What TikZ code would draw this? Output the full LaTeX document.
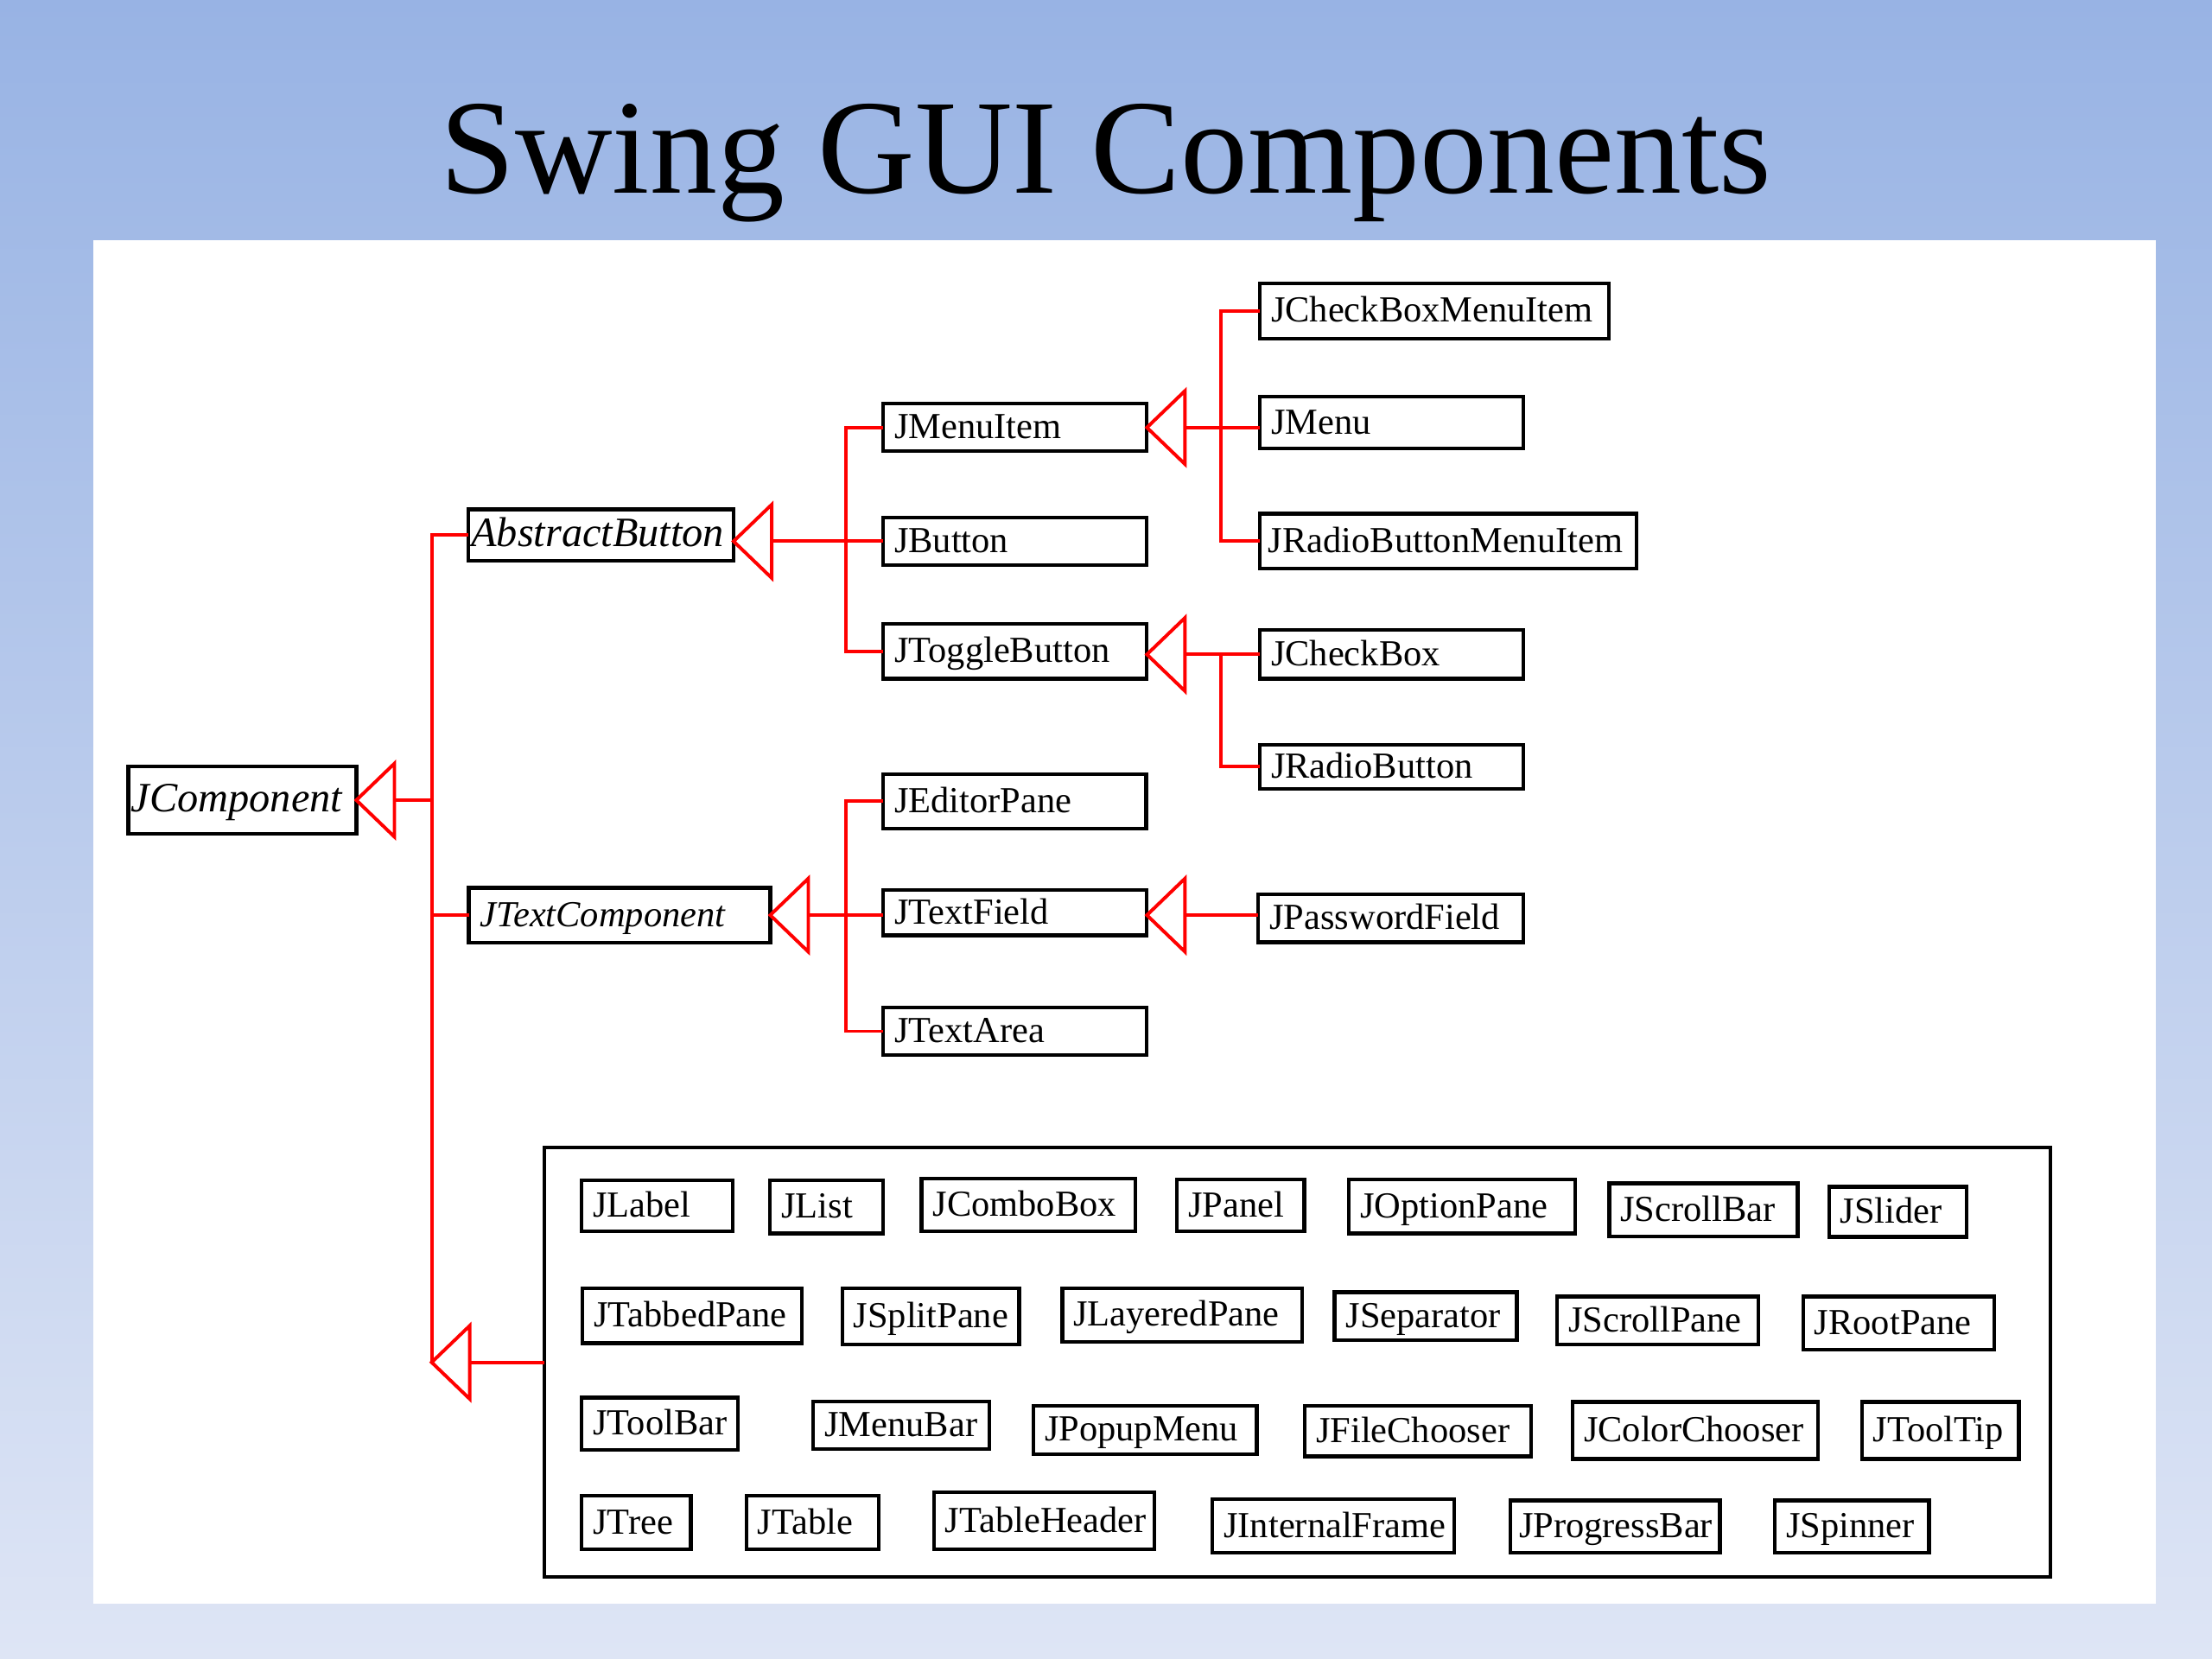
\documentclass[tikz,border=0pt]{standalone}
\usepackage{fontspec}
\setmainfont{Liberation Serif}
\hfuzz=80pt \hbadness=10000
\definecolor{bgtop}{RGB}{152,179,228}
\definecolor{bgbot}{RGB}{222,229,245}
\tikzset{
  cls/.style={draw=black, line width=1.3pt, fill=white, inner ysep=0pt, outer sep=0pt,
              align=left, text height=0.85em, text depth=0.05em,
              font=\fontsize{13}{14}\selectfont},
  rl/.style={draw=red, line width=1.2pt},
  tri/.style={draw=red, fill=white, line width=1.2pt, line join=miter},
  frame/.style={draw=black, line width=1.3pt, inner sep=0pt, outer sep=0pt},
}
\newcommand\bigit{\fontsize{14.8}{16}\selectfont\itshape}
\newcommand\bx[7][4]{%
  \pgfmathsetmacro\myBW{(#5-#3)*0.5}%
  \pgfmathsetmacro\myBH{(#6-#4)*0.5}%
  \pgfmathsetmacro\myTW{(#5-#3)*0.5-2*#1}%
  \node[cls, inner xsep=#1pt, minimum width=\myBW pt, minimum height=\myBH pt, text width=\myTW pt]
     (#2) at ({(#3+#5)/2},{(#4+#6)/2}) {#7};}
\begin{document}
\begin{tikzpicture}[x=0.5pt,y=-0.5pt]
\useasboundingbox (0,0) rectangle (1568,1176);
\shade[top color=bgtop, bottom color=bgbot] (0,0) rectangle (1568,1176);
\fill[white] (66,170) rectangle (1528,1137);
\node[font=\fontsize{47.7}{50}\selectfont, anchor=base, inner sep=0pt] (title) at (784,137) {Swing GUI Components};

% hierarchy boxes
\bx[1]{JComponent}{91}{543.4}{252.6}{591}{\bigit JComponent}
\bx[1]{AbstractButton}{332}{361}{520}{397.4}{\bigit AbstractButton}
\bx{JTextComponent}{332.3}{629.3}{546}{668.1}{\itshape JTextComponent}
\bx{JMenuItem}{626}{286.2}{813}{319.9}{JMenuItem}
\bx{JButton}{626}{366.7}{813}{400.7}{JButton}
\bx{JToggleButton}{626}{442.4}{813}{481.1}{JToggleButton}
\bx{JEditorPane}{626}{548.7}{812.5}{587.3}{JEditorPane}
\bx{JTextField}{626}{630.7}{813}{663}{JTextField}
\bx{JTextArea}{626}{714}{813}{748}{JTextArea}
\bx{JCheckBoxMenuItem}{893}{200.7}{1140.5}{239.9}{JCheckBoxMenuItem}
\bx{JMenu}{893}{281.2}{1080}{318}{JMenu}
\bx[3]{JRadioButtonMenuItem}{893}{364.2}{1160}{403.2}{JRadioButtonMenuItem}
\bx{JCheckBox}{893}{446.7}{1080}{481.1}{JCheckBox}
\bx{JRadioButton}{893}{527.9}{1080}{559.1}{JRadioButton}
\bx{JPasswordField}{892}{634}{1080}{668}{JPasswordField}

% the big frame
\node[frame, minimum width=533.8pt, minimum height=152.3pt] (bigbox) at (919.8,965.7) {};
\bx{JLabel}{412.4}{836.7}{519.6}{872.9}{JLabel}
\bx{JList}{545.9}{836.7}{626.1}{874.3}{JList}
\bx{JComboBox}{653.2}{835.3}{805}{872.9}{JComboBox}
\bx{JPanel}{834.2}{836}{924.6}{872.9}{JPanel}
\bx{JOptionPane}{956.2}{836}{1116.5}{874.3}{JOptionPane}
\bx{JScrollBar}{1140.7}{838.8}{1274.3}{876.4}{JScrollBar}
\bx{JSlider}{1296.5}{841.2}{1393.8}{876.8}{JSlider}
\bx{JTabbedPane}{413}{913.1}{568.5}{952.1}{JTabbedPane}
\bx{JSplitPane}{597}{913.1}{722.4}{953.1}{JSplitPane}
\bx{JLayeredPane}{753}{913.1}{922.8}{951.1}{JLayeredPane}
\bx{JSeparator}{946}{916}{1075.3}{950.1}{JSeparator}
\bx{JScrollPane}{1103.8}{919}{1246.5}{953.1}{JScrollPane}
\bx{JRootPane}{1278.2}{919}{1413.5}{956.6}{JRootPane}
\bx{JToolBar}{412.4}{990.7}{523.1}{1027.7}{JToolBar}
\bx{JMenuBar}{576.5}{993.6}{701.3}{1027.3}{JMenuBar}
\bx{JPopupMenu}{732.6}{996.4}{890.8}{1030.7}{JPopupMenu}
\bx{JFileChooser}{924.9}{996.6}{1085.2}{1032.3}{JFileChooser}
\bx{JColorChooser}{1114.7}{993.8}{1288.7}{1034.2}{JColorChooser}
\bx{JToolTip}{1319.7}{993.8}{1431.1}{1034.2}{JToolTip}
\bx{JTree}{412.4}{1060.2}{489.7}{1098.4}{JTree}
\bx{JTable}{529.1}{1060.2}{622.9}{1098.4}{JTable}
\bx{JTableHeader}{662}{1057.8}{818.4}{1098.4}{JTableHeader}
\bx{JInternalFrame}{859.5}{1062.8}{1031}{1100.8}{JInternalFrame}
\bx[3]{JProgressBar}{1070.8}{1063.6}{1219.1}{1100.8}{JProgressBar}
\bx{JSpinner}{1258.1}{1063.6}{1367.4}{1100.8}{JSpinner}

% connectors: JComponent
\path (JComponent.east) ++(27,0) coordinate (bJC);
\path (bigbox.west) ++(-80,0) coordinate (bigtip) ++(27,0) coordinate (bigbase);
\draw[rl] (bJC) -- (bJC -| bigtip);
\draw[rl] (AbstractButton.west) -- (AbstractButton.west -| bigtip) -- (bigtip);
\draw[rl] (JTextComponent.west) -- (JTextComponent.west -| bigtip);
\draw[rl] (bigbase) -- (bigbox.west);

% AbstractButton
\coordinate (tAB) at (AbstractButton.east |- JButton.west);
\path (tAB) ++(27,0) coordinate (bAB) ++(52.5,0) coordinate (kAB);
\draw[rl] (bAB) -- (JButton.west);
\draw[rl] (JMenuItem.west) -- (JMenuItem.west -| kAB) -- (JToggleButton.west -| kAB) -- (JToggleButton.west);

% JTextComponent
\coordinate (tTC) at (JTextComponent.east);
\path (tTC) ++(27,0) coordinate (bTC);
\draw[rl] (bTC) -- (JTextField.west |- tTC);
\draw[rl] (JEditorPane.west) -- (JEditorPane.west -| kAB) -- (JTextArea.west -| kAB) -- (JTextArea.west);

% JMenuItem
\path (JMenuItem.east) ++(27,0) coordinate (bMI) ++(25.5,0) coordinate (kMI);
\draw[rl] (bMI) -- (JMenu.west |- bMI);
\draw[rl] (JCheckBoxMenuItem.west) -- (JCheckBoxMenuItem.west -| kMI) -- (JRadioButtonMenuItem.west -| kMI) -- (JRadioButtonMenuItem.west);

% JToggleButton
\coordinate (tTB) at (JToggleButton.east |- JCheckBox.west);
\path (tTB) ++(27,0) coordinate (bTB);
\draw[rl] (bTB) -- (JCheckBox.west);
\draw[rl] (bTB -| kMI) -- (JRadioButton.west -| kMI) -- (JRadioButton.west);

% JTextField
\coordinate (tTF) at (JTextField.east |- tTC);
\path (tTF) ++(27,0) coordinate (bTF);
\draw[rl] (bTF) -- (JPasswordField.west |- tTF);

% inheritance triangles
\foreach \t in {JComponent.east, tAB, tTC, JMenuItem.east, tTB, tTF, bigtip}
  \draw[tri] (\t) -- ++(27,-26) -- ++(0,52) -- cycle;
\end{tikzpicture}
\end{document}
